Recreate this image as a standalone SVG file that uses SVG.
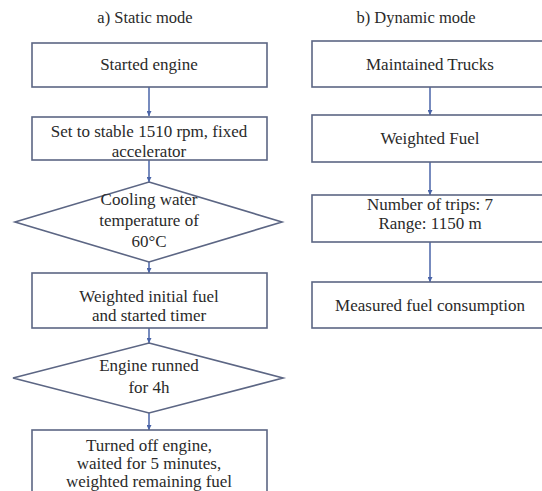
<svg xmlns="http://www.w3.org/2000/svg" width="542" height="491" viewBox="0 0 542 491">
<style>
.t{font-family:'Liberation Serif','DejaVu Serif','Times New Roman',serif;font-size:17px;fill:#2a2a2a;text-anchor:middle}
.ttl{font-size:16.5px}
.box{fill:#fff;stroke:#5c6684;stroke-width:1.6}
.con{stroke:#4a64a8;stroke-width:1.5;fill:none}
</style>
<defs>
<marker id="ah" viewBox="0 0 10 10" refX="10" refY="5" markerWidth="5" markerHeight="5" orient="auto" markerUnits="userSpaceOnUse">
<path d="M0,0 L10,5 L0,10 z" fill="#4a64a8"/>
</marker>
</defs>
<rect width="542" height="491" fill="#fff"/>
<g class="t ttl">
<text x="145" y="23">a) Static mode</text>
<text x="416" y="23">b) Dynamic mode</text>
</g>
<g id="connectors">
<line class="con" x1="149" y1="87" x2="149" y2="116" marker-end="url(#ah)"/>
<line class="con" x1="149" y1="160" x2="149" y2="182" marker-end="url(#ah)"/>
<line class="con" x1="149" y1="262" x2="149" y2="273" marker-end="url(#ah)"/>
<line class="con" x1="149" y1="328" x2="149" y2="343" marker-end="url(#ah)"/>
<line class="con" x1="149" y1="413" x2="149" y2="430" marker-end="url(#ah)"/>
<line class="con" x1="430" y1="87" x2="430" y2="115" marker-end="url(#ah)"/>
<line class="con" x1="430" y1="162" x2="430" y2="195" marker-end="url(#ah)"/>
<line class="con" x1="430" y1="242" x2="430" y2="282" marker-end="url(#ah)"/>
</g>
<g class="t">
<g id="a1"><rect class="box" x="32" y="43" width="235" height="44"/><text x="149" y="70">Started engine</text></g>
<g id="a2"><rect class="box" x="32" y="117" width="235" height="43"/><text x="149" y="137">Set to stable 1510 rpm, fixed</text><text x="149" y="157">accelerator</text></g>
<g id="a3"><polygon class="box" points="149,182 282,222 149,262 15,222"/><text x="149" y="205">Cooling water</text><text x="149" y="226">temperature of</text><text x="149" y="247">60°C</text></g>
<g id="a4"><rect class="box" x="32" y="273" width="235" height="55"/><text x="149" y="302">Weighted initial fuel</text><text x="149" y="321">and started timer</text></g>
<g id="a5"><polygon class="box" points="149,343 283,378 149,413 13,378"/><text x="149" y="371">Engine runned</text><text x="149" y="393">for 4h</text></g>
<g id="a6"><rect class="box" x="32" y="430" width="235" height="70"/><text x="149" y="451">Turned off engine,</text><text x="149" y="469">waited for 5 minutes,</text><text x="149" y="487">weighted remaining fuel</text></g>
<g id="b1"><rect class="box" x="312" y="41" width="236" height="46"/><text x="430" y="70">Maintained Trucks</text></g>
<g id="b2"><rect class="box" x="312" y="115" width="236" height="47"/><text x="430" y="144">Weighted Fuel</text></g>
<g id="b3"><rect class="box" x="312" y="195" width="236" height="47"/><text x="430" y="210">Number of trips: 7</text><text x="430" y="229">Range: 1150 m</text></g>
<g id="b4"><rect class="box" x="312" y="282" width="236" height="46"/><text x="430" y="311">Measured fuel consumption</text></g>
</g>
</svg>
